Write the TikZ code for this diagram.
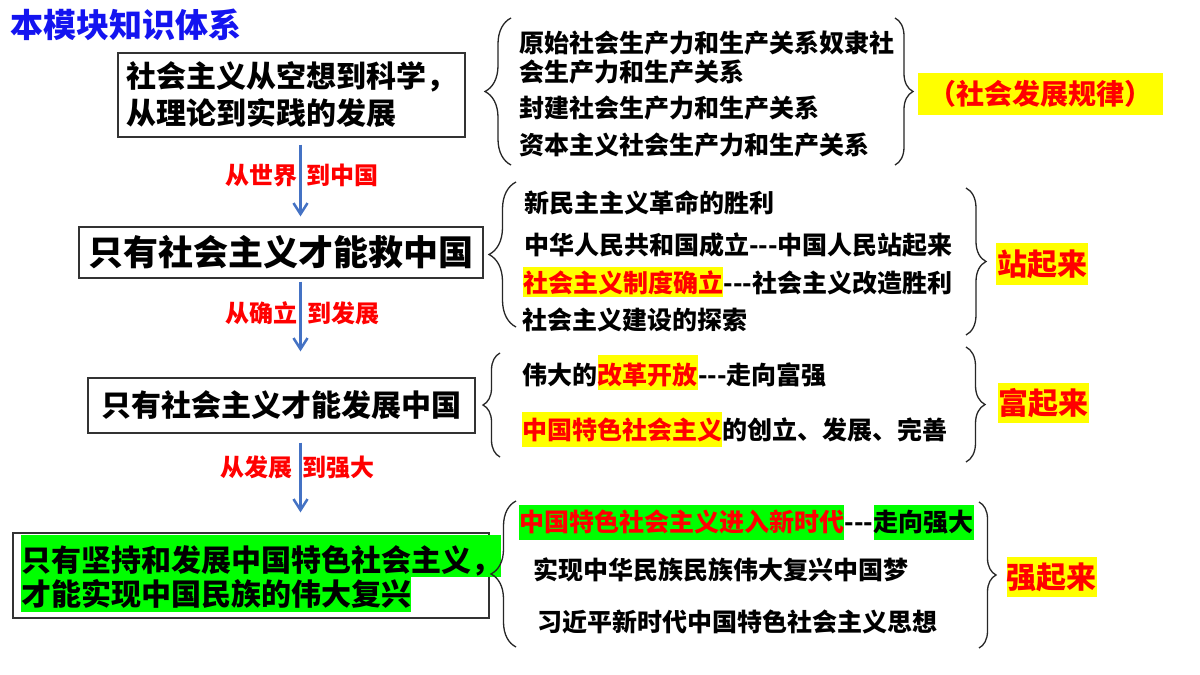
\documentclass[tikz,border=0pt]{standalone}
\usepackage{fontspec}
\setmainfont{Noto Sans CJK SC}
\usetikzlibrary{arrows.meta,decorations.pathreplacing}
\newcommand\fsz[1]{\fontsize{#1}{#1}\selectfont}
\newcommand\hy{\mbox{-}}
\definecolor{hlyellow}{RGB}{255,255,0}
\definecolor{hlgreen}{RGB}{0,255,0}
\definecolor{myred}{RGB}{255,0,0}
\definecolor{myblue}{RGB}{68,114,196}
\definecolor{titleblue}{RGB}{20,20,240}
\begin{document}
\begin{tikzpicture}[x=1pt,y=-1pt,
 txt/.style={anchor=base west, inner sep=0pt, font=\bfseries\fsz{25}},
 tag/.style={fill=hlyellow, text=myred, inner sep=0pt, font=\bfseries\fsz{30}},
 box/.style={draw=black!80, line width=1.2pt, inner sep=0pt, font=\bfseries\fsz{30}},
 arr/.style={draw=myblue, line width=2.5pt, -{Straight Barb[length=11pt,width=14pt]}},
 lbl/.style={anchor=base west, inner sep=0pt, text=myred, font=\bfseries\fsz{24}},
 brc/.style={decorate, decoration={brace, amplitude=#1}, line width=1.3pt, draw=black!85},
]
\fill[white] (0,0) rectangle (1200,675);
\useasboundingbox (0,0) rectangle (1200,675);

% title
\node[anchor=base west, inner sep=0pt, text=titleblue, font=\bfseries\fsz{33}] (title) at (10,37.5) {本模块知识体系};

% left boxes
\node[box, minimum width=347pt, minimum height=84pt, align=left, font=\bfseries\fontsize{30}{37}\selectfont] (b1) at (291.5,95) {社会主义从空想到科学，\\从理论到实践的发展};
\node[box, minimum width=404pt, minimum height=51pt, font=\bfseries\fsz{35}] (b2) at (281,252.5) {只有社会主义才能救中国};
\node[box, minimum width=387pt, minimum height=55pt] (b3) at (281.5,405.5) {只有社会主义才能发展中国};
\node[box, minimum width=476pt, minimum height=85pt] (b4) at (251,575.5) {};
\node[anchor=north west, fill=hlgreen, inner sep=0pt, text height=36.4pt, text depth=5.6pt, font=\bfseries\fsz{30}] (b4a) at (21,535) {只有坚持和发展中国特色社会主义，};
\node[anchor=north west, fill=hlgreen, inner sep=0pt, text height=28.4pt, text depth=6.6pt, font=\bfseries\fsz{30}] (b4b) at (21,577) {才能实现中国民族的伟大复兴};

% arrows
\coordinate (ax) at (300.5,0);
\draw[arr, shorten <=7pt, shorten >=10pt] (b1.south -| ax) -- (b2.north -| ax);
\draw[arr, shorten <=3pt, shorten >=26pt] (b2.south -| ax) -- (b3.north -| ax);
\draw[arr, shorten <=9pt, shorten >=20pt] (b3.south -| ax) -- (b4.north -| ax);
\node[lbl] (l1a) at (225,184) {从世界};
\node[lbl] (l1b) at (306,184) {到中国};
\node[lbl] (l2a) at (225,322) {从确立};
\node[lbl] (l2b) at (307,322) {到发展};
\node[lbl] (l3a) at (220,476) {从发展};
\node[lbl] (l3b) at (302,476) {到强大};

% group 1
\node[txt] (g1a) at (519,52.5) {原始社会生产力和生产关系奴隶社};
\node[txt] (g1b) at (519,81.5) {会生产力和生产关系};
\node[txt] (g1c) at (519,117.5) {封建社会生产力和生产关系};
\node[txt] (g1d) at (519,154.5) {资本主义社会生产力和生产关系};

% group 2
\node[txt] (g2a) at (524,212.5) {新民主主义革命的胜利};
\node[txt] (g2b) at (524,254.5) {中华人民共和国成立\hy\hy\hy 中国人民站起来};
\node[txt, fill=hlyellow, text=myred, text height=25.5pt, text depth=4.5pt] (g2c1) at (523,292.5) {社会主义制度确立};
\node[txt] (g2c2) at (g2c1.base east) {\hy\hy\hy 社会主义改造胜利};
\node[txt] (g2d) at (522,329.5) {社会主义建设的探索};

% group 3
\node[txt] (g3a1) at (522,384.5) {伟大的};
\node[txt, fill=hlyellow, text=myred, text height=29.5pt, text depth=5.5pt] (g3a2) at (g3a1.base east) {改革开放};
\node[txt] (g3a3) at (g3a2.base east) {\hy\hy\hy 走向富强};
\node[txt, fill=hlyellow, text=myred, text height=27.5pt, text depth=7.5pt] (g3b1) at (522,439.5) {中国特色社会主义};
\node[txt] (g3b2) at (g3b1.base east) {的创立、发展、完善};

% group 4
\node[txt, fill=hlgreen, text=myred, text height=26.5pt, text depth=8.5pt] (g4a1) at (519,531.5) {中国特色社会主义进入新时代};
\node[txt] (g4a2) at (g4a1.base east) {\hy\hy\hy};
\node[txt, fill=hlgreen, text height=26.5pt, text depth=8.5pt] (g4a3) at (g4a2.base east) {走向强大};
\node[txt] (g4b) at (533,579.5) {实现中华民族民族伟大复兴中国梦};
\node[txt] (g4c) at (537,631.5) {习近平新时代中国特色社会主义思想};

% tags
\node[tag, minimum width=245pt, minimum height=42pt, font=\bfseries\fsz{28}] (t1) at (1040.5,94) {（社会发展规律）};
\node[tag, minimum width=92pt, minimum height=42pt] (t2) at (1042,264) {站起来};
\node[tag, minimum width=91pt, minimum height=40pt] (t3) at (1043.5,403) {富起来};
\node[tag, minimum width=89pt, minimum height=40pt] (t4) at (1051.5,577) {强起来};

% braces
\draw[brc=26pt] (511,165) -- (511,18);
\draw[brc=18pt] (895,18) -- (895,165);
\draw[brc=27pt] (516,327) -- (516,182);
\draw[brc=20pt] (966,188) -- (966,335);
\draw[brc=17pt] (500,457) -- (500,353);
\draw[brc=19pt] (966,347) -- (966,462);
\draw[brc=25pt] (516,647) -- (516,501);
\draw[brc=17pt] (979,502) -- (979,648);
\end{tikzpicture}
\end{document}
